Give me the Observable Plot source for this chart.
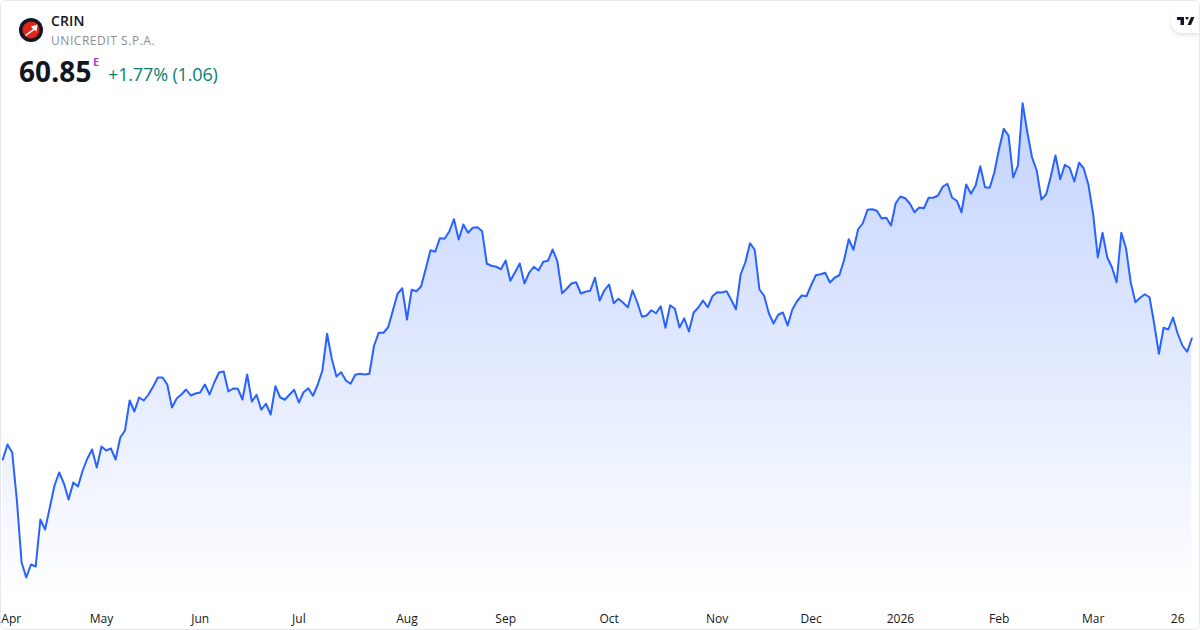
<!DOCTYPE html>
<html>
<head>
<meta charset="utf-8">
<script src="https://cdn.jsdelivr.net/npm/d3@7"></script>
<script src="https://cdn.jsdelivr.net/npm/@observablehq/plot@0.6"></script>
<style>
html,body{margin:0;padding:0;background:#fff;}
body{width:1200px;height:630px;overflow:hidden;position:relative;font-family:"Open Sans",sans-serif;}
#frame{position:absolute;left:0;top:0;width:1198px;height:628px;border:1px solid #e6e8ee;border-radius:6px;pointer-events:none;z-index:3;}
#chart{position:absolute;left:0;top:0;}
#chart svg{display:block;}
.hdr{position:absolute;white-space:nowrap;z-index:2;}
#sym{left:51px;top:12px;font-size:14px;font-weight:600;color:#131722;line-height:18px;letter-spacing:.1px;}
#nm{left:51px;top:32px;font-size:12px;color:#8a8e99;line-height:17px;letter-spacing:.55px;}
#px{left:19px;top:53px;font-size:28px;font-weight:700;color:#131722;line-height:36px;letter-spacing:.1px;}
#e{left:93px;top:54px;font-size:11px;font-weight:700;color:#ab47bc;line-height:15px;}
#chg{left:108px;top:62px;font-size:18px;line-height:25px;color:#088270;letter-spacing:-.15px;}
#logo{left:19px;top:18px;}
#tv{left:1171px;top:10px;width:29px;height:23px;background:#fff;border-radius:12px 0 0 12px;box-shadow:0 2px 4px rgba(0,0,0,.12);}
</style>
</head>
<body>
<div id="chart"></div>
<div id="frame"></div>
<div id="logo" class="hdr"><svg width="24" height="24" viewBox="0 0 24 24"><circle cx="12" cy="12" r="12" fill="#131722"/><circle cx="12" cy="12" r="8.5" fill="#e2231a"/><path d="M6 17 L14 11 L12 8.5 L18.5 6.5 L17.5 13.5 L15.5 12 L7 18 Z" fill="#fff"/></svg></div>
<div id="sym" class="hdr">CRIN</div>
<div id="nm" class="hdr">UNICREDIT S.P.A.</div>
<div id="px" class="hdr">60.85</div>
<div id="e" class="hdr">E</div>
<div id="chg" class="hdr">+1.77% (1.06)</div>
<div id="tv" class="hdr"><svg width="17.5" height="8" viewBox="0 6 35 16" style="position:absolute;left:6px;top:6.5px"><path d="M14 6H0v6h7v10h7V6zm14 16h-7l7-16h7l-7 16zm-8-11a3 3 0 1 0 0-6 3 3 0 0 0 0 6z" fill="#131722"/></svg></div>
<script>
const closes = [
51.17,52.37,51.73,47.89,42.93,41.73,42.77,42.61,46.37,45.57,47.33,49.09,50.13,49.25,47.97,49.33,49.01,50.29,51.25,51.97,
50.53,52.21,51.89,52.05,51.17,52.93,53.49,55.89,55.01,56.13,55.89,56.37,57.01,57.73,57.73,57.17,55.33,56.05,56.37,56.77,
56.29,56.45,56.53,57.17,56.37,57.33,58.13,58.21,56.61,56.85,56.83,55.97,57.97,55.81,56.35,55.15,55.63,54.77,57.03,56.15,
55.95,56.35,56.75,55.73,56.55,56.87,56.27,57.15,58.29,61.23,59.23,57.81,58.15,57.49,57.23,57.95,58.03,57.97,58.03,60.29,
61.31,61.31,61.75,63.09,64.43,64.87,62.37,64.75,64.63,65.01,66.43,67.91,67.79,68.87,68.83,69.41,70.39,68.77,69.97,69.31,
69.71,69.75,69.43,66.83,66.67,66.59,66.39,67.09,65.47,66.15,66.85,65.25,66.11,66.59,66.29,66.99,67.07,67.97,67.03,64.47,
64.83,65.25,65.35,64.45,64.59,64.67,65.71,63.89,64.69,65.17,63.67,64.03,63.71,63.35,64.69,63.75,62.59,62.69,63.11,62.87,
63.43,61.71,63.51,63.23,61.73,62.47,61.41,62.93,63.33,63.89,63.35,64.23,64.55,64.53,64.63,63.95,63.19,65.97,66.95,68.47,
67.95,64.77,64.27,62.87,62.05,62.75,62.93,61.89,63.17,63.83,64.29,64.23,65.11,65.91,65.99,66.11,65.33,65.71,65.91,67.11,
68.79,67.95,69.59,70.07,71.15,71.19,71.07,70.45,70.51,69.89,71.67,72.21,72.07,71.65,70.95,71.33,71.27,72.11,72.11,72.29,
72.99,73.23,72.11,71.87,70.95,73.17,72.43,73.09,74.63,72.95,72.91,74.15,76.03,77.63,77.09,73.73,74.69,79.67,77.35,75.35,
74.29,71.97,72.37,73.81,75.49,73.59,74.75,74.51,73.41,74.91,74.47,73.15,70.83,67.33,69.31,67.35,66.55,65.35,69.31,68.07,
65.35,63.75,64.11,64.39,64.15,62.03,59.63,61.71,61.57,62.53,61.23,60.29,59.79,60.85
];
const tickDays = [1.8,21,42,63,86,107,129,152,172,191,212,232,250];
const tickLabels = ["Apr","May","Jun","Jul","Aug","Sep","Oct","Nov","Dec","2026","Feb","Mar","26"];
const boldLabels = ["2026"];
const baseline = 39.89, ceiling = 87.89;
const rows = closes.map((close, day) => ({day, close}));
const ticks = tickDays.map((day, i) => ({day, label: tickLabels[i]}));

const gradient = () => {
  const ns = "http://www.w3.org/2000/svg";
  const defs = document.createElementNS(ns, "defs");
  defs.innerHTML = `<linearGradient id="fade" x1="0" y1="0" x2="0" y2="1">
    <stop offset="0" stop-color="#2962ff" stop-opacity="0.28"/>
    <stop offset="1" stop-color="#2962ff" stop-opacity="0"/>
  </linearGradient>`;
  return defs;
};

const chart = Plot.plot({
  width: 1200,
  height: 630,
  margin: 0,
  x: {type: "linear", domain: [0, closes.length - 1], range: [2.3, 1191.3], axis: null},
  y: {type: "linear", domain: [baseline, ceiling], range: [600, 0], axis: null},
  style: {background: "transparent", fontFamily: '"Open Sans", sans-serif'},
  marks: [
    gradient,
    Plot.areaY(rows, {x: "day", y1: baseline, y2: "close", fill: "url(#fade)"}),
    Plot.lineY(rows, {x: "day", y: "close", stroke: "#2962ff", strokeWidth: 2, strokeLinejoin: "round"}),
    Plot.text(ticks, {
      x: "day", text: "label", frameAnchor: "bottom", dy: -8,
      fontSize: 12, fill: "#131722",
      fontWeight: d => boldLabels.includes(d.label) ? 700 : 400
    })
  ]
});
document.getElementById("chart").append(chart);
</script>
</body>
</html>
